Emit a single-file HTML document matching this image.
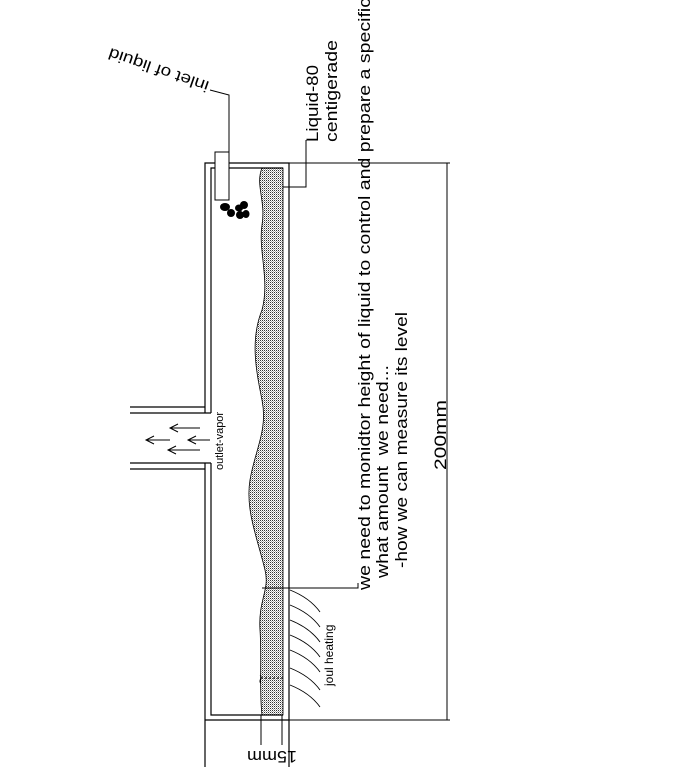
<!DOCTYPE html>
<html><head><meta charset="utf-8"><style>
html,body{margin:0;padding:0;background:#fff;}
svg{display:block;font-family:"Liberation Sans",Arial,sans-serif;}
</style></head><body>
<svg width="673" height="767" viewBox="0 0 673 767" xmlns="http://www.w3.org/2000/svg">
<defs>
<pattern id="dots" width="2" height="2" patternUnits="userSpaceOnUse">
<rect width="2" height="2" fill="#fff"/><rect width="1" height="1" fill="#333"/><rect x="1" y="1" width="1" height="1" fill="#aaa"/>
</pattern>
</defs>
<path d="M262,168 L283,168 L283,715 L262,715 C259,690 262,660 260,630 C258,600 270,590 265,570 C258,540 245,510 250,480 C255,450 268,430 262,400 C256,370 250,340 262,310 C270,280 258,250 262,225 C266,200 255,185 262,168 Z" fill="url(#dots)" stroke="#000" stroke-width="0.8"/>
<g fill="none" stroke="#000" stroke-width="1.2">
<polyline points="205,413 205,163 289,163 289,767"/>
<polyline points="205,463 205,767"/>
<polyline points="211,413 211,168 283,168"/>
<polyline points="211,463 211,715 283,715"/>
<line x1="205" y1="720" x2="289" y2="720"/>
<line x1="130" y1="407" x2="205" y2="407"/>
<line x1="130" y1="413" x2="211" y2="413"/>
<line x1="130" y1="463" x2="211" y2="463"/>
<line x1="130" y1="469" x2="205" y2="469"/>
</g>
<g stroke="#000" stroke-width="1" fill="none">
<line x1="289" y1="163" x2="450" y2="163"/>
<line x1="447" y1="163" x2="447" y2="720"/>
<line x1="289" y1="720" x2="450" y2="720"/>
<line x1="261" y1="715" x2="261" y2="745"/>
<line x1="282" y1="715" x2="282" y2="745"/>
<line x1="261" y1="678" x2="283" y2="678" stroke-dasharray="2,2"/>
</g>
<text font-size="17" textLength="70" lengthAdjust="spacingAndGlyphs" transform="translate(446,470) rotate(-90)">200mm</text>
<text font-size="17" textLength="50" lengthAdjust="spacingAndGlyphs" transform="translate(297,751) rotate(180)">15mm</text>
<text font-size="16" transform="translate(266,684) rotate(-90)">~</text>
<rect x="215" y="152" width="14" height="48" fill="#fff" stroke="#000" stroke-width="1"/>
<polyline points="229,152 229,95 210,90" fill="none" stroke="#000" stroke-width="1"/>
<text font-size="16" textLength="105" lengthAdjust="spacingAndGlyphs" transform="translate(210,82) rotate(-161)">inlet of liquid</text>
<g fill="#000">
<ellipse cx="225" cy="207" rx="5" ry="4"/><ellipse cx="231" cy="213" rx="4" ry="4"/>
<ellipse cx="239" cy="208" rx="4" ry="3.5"/><ellipse cx="244" cy="205" rx="4" ry="4"/>
<ellipse cx="240" cy="215" rx="4" ry="4"/><ellipse cx="246" cy="214" rx="3.5" ry="4"/>
</g>
<polyline points="306,140 306,187 283,187" fill="none" stroke="#000" stroke-width="1"/>
<text font-size="17" textLength="77" lengthAdjust="spacingAndGlyphs" transform="translate(318,142) rotate(-90)">Liquid-80</text>
<text font-size="17" textLength="102" lengthAdjust="spacingAndGlyphs" transform="translate(337,142) rotate(-90)">centigerade</text>
<polyline points="262,588 358,588 358,583" fill="none" stroke="#000" stroke-width="1"/>
<text font-size="17" textLength="592" lengthAdjust="spacingAndGlyphs" transform="translate(370,590) rotate(-90)">we need to monidtor height of liquid to control and prepare a specific</text>
<text font-size="17" textLength="213" lengthAdjust="spacingAndGlyphs" xml:space="preserve" transform="translate(388,578) rotate(-90)">what amount  we need...</text>
<text font-size="17" textLength="256" lengthAdjust="spacingAndGlyphs" transform="translate(407,568) rotate(-90)">-how we can measure its level</text>
<g stroke="#000" stroke-width="1" fill="none">
<line x1="170" y1="428" x2="200" y2="428"/><polyline points="178,424 170,428 178,432"/>
<line x1="146" y1="440" x2="170" y2="440"/><polyline points="154,436 146,440 154,444"/>
<line x1="188" y1="440" x2="210" y2="440"/><polyline points="196,436 188,440 196,444"/>
<line x1="168" y1="450" x2="200" y2="450"/><polyline points="176,446 168,450 176,454"/>
</g>
<text font-size="11" transform="translate(223,470) rotate(-90)">outlet-vapor</text>
<g stroke="#000" stroke-width="0.9" fill="none">
<path d="M290,590 Q310,598 320,612"/>
<path d="M290,605 Q310,613 320,627"/>
<path d="M290,620 Q310,628 320,642"/>
<path d="M290,635 Q310,643 320,657"/>
<path d="M290,650 Q310,658 320,672"/>
<path d="M290,668 Q310,676 320,690"/>
<path d="M290,685 Q310,693 320,707"/>
</g>
<text font-size="12" transform="translate(333,686) rotate(-90)">joul heating</text>
</svg>
</body></html>
